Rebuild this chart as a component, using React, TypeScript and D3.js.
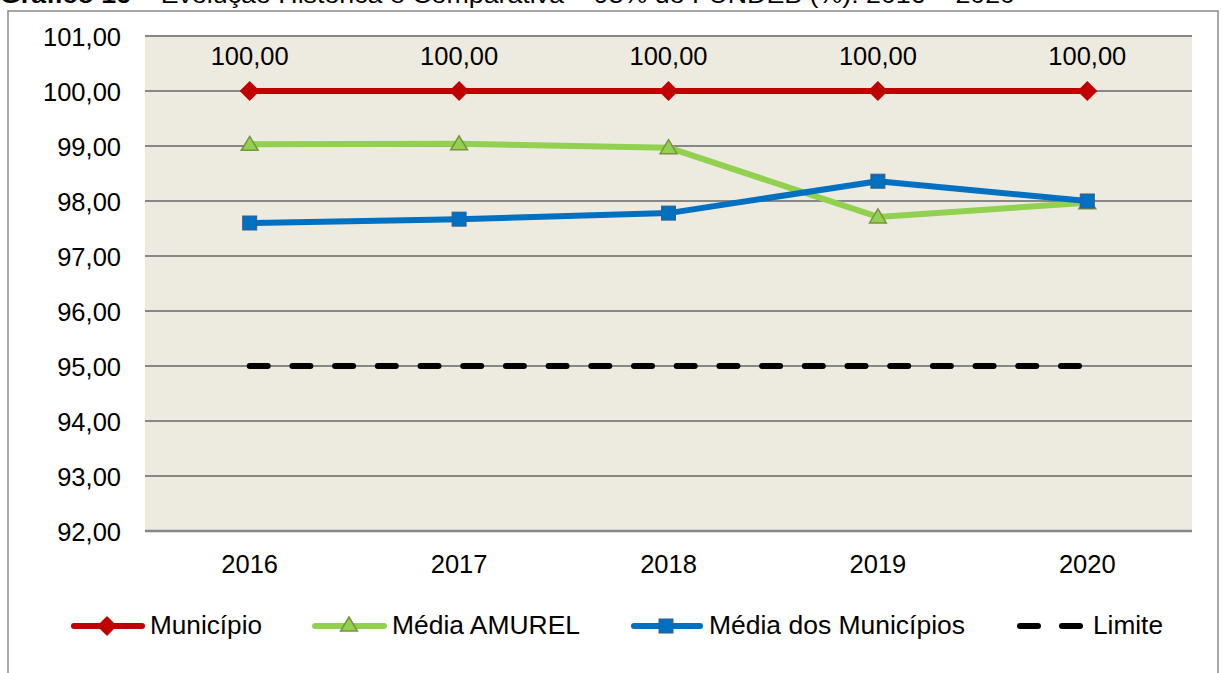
import React from "react";
import * as d3 from "d3";

const years = ["2016", "2017", "2018", "2019", "2020"];
const municipio = [100, 100, 100, 100, 100];
const mediaAmurel = [99.03, 99.04, 98.97, 97.71, 97.97];
const mediaMunicipios = [97.6, 97.67, 97.78, 98.36, 98.0];
const limite = [95, 95, 95, 95, 95];
const yTicks = [92, 93, 94, 95, 96, 97, 98, 99, 100, 101];
const titleText = "Gráfico 16 – Evolução Histórica e Comparativa – 95% do FUNDEB (%): 2016 – 2020";

const W = 1222;
const H = 673;
const FONT = "'Liberation Sans', Arial, sans-serif";
const fmt = (v: number) => v.toFixed(2).replace(".", ",");

export default function App() {
  const x = d3.scaleBand().domain(years).range([145, 1192]);
  const cx = (d: string) => (x(d) as number) + x.bandwidth() / 2;
  const y = d3.scaleLinear().domain([92, 101]).range([531, 36]);
  const line = d3
    .line<number>()
    .x((_, i) => cx(years[i]))
    .y((v) => y(v));

  const RED = "#C00000";
  const GREEN = "#92D050";
  const BLUE = "#0070C0";

  const diamond = (px: number, py: number, r: number) =>
    `M${px},${py - r}L${px + r},${py}L${px},${py + r}L${px - r},${py}Z`;
  const triangle = (px: number, py: number, r: number) =>
    `M${px},${py - r}L${px + r * 1.05},${py + r * 0.75}L${px - r * 1.05},${py + r * 0.75}Z`;

  const legendY = 626;
  const FS = 25.5;

  return (
    <svg
      width={W}
      height={H}
      style={{ position: "absolute", left: 0, top: 0, background: "#fff" }}
      fontFamily={FONT}
    >
      <text x={0} y={3} fontSize={23} fill="#000" textLength={1015} lengthAdjust="spacingAndGlyphs">
        <tspan fontWeight="bold">Gráfico 16</tspan>
        {titleText.slice(10)}
      </text>
      {/* frame */}
      <path d={`M8,${H}L8,11L1218,11L1218,${H}`} fill="none" stroke="#8a8a8a" strokeWidth={1.5} />

      {/* plot background */}
      <rect x={145} y={36} width={1047} height={495} fill="#EDEAE0" />

      {yTicks.map((t) => (
        <g key={t}>
          <line x1={145} x2={1192} y1={y(t)} y2={y(t)} stroke="#878787" strokeWidth={t === 92 ? 2.5 : 2} />
          <text x={121} y={y(t) + 9.5} textAnchor="end" fontSize={FS} fill="#000">
            {fmt(t)}
          </text>
        </g>
      ))}

      {years.map((yr) => (
        <text key={yr} x={cx(yr)} y={573} textAnchor="middle" fontSize={FS} fill="#000">
          {yr}
        </text>
      ))}

      {/* Limite */}
      <path
        d={line(limite) || ""}
        fill="none"
        stroke="#000"
        strokeWidth={6}
        strokeDasharray="18 24.7"
        strokeLinecap="round"
      />

      {/* Média AMUREL */}
      <path d={line(mediaAmurel) || ""} fill="none" stroke={GREEN} strokeWidth={6} strokeLinejoin="round" />
      {mediaAmurel.map((v, i) => (
        <path key={i} d={triangle(cx(years[i]), y(v), 8)} fill={GREEN} stroke="#77933C" strokeWidth={1.5} />
      ))}

      {/* Média dos Municípios */}
      <path d={line(mediaMunicipios) || ""} fill="none" stroke={BLUE} strokeWidth={6} strokeLinejoin="round" />
      {mediaMunicipios.map((v, i) => (
        <rect
          key={i}
          x={cx(years[i]) - 7}
          y={y(v) - 7}
          width={14}
          height={14}
          fill={BLUE}
          stroke="#385D8A"
          strokeWidth={1}
        />
      ))}

      {/* Município */}
      <path d={line(municipio) || ""} fill="none" stroke={RED} strokeWidth={6} />
      {municipio.map((v, i) => (
        <g key={i}>
          <path d={diamond(cx(years[i]), y(v), 10)} fill={RED} />
          <text x={cx(years[i])} y={y(v) - 26} textAnchor="middle" fontSize={FS} fill="#000">
            {fmt(v)}
          </text>
        </g>
      ))}

      {/* Legend */}
      <g>
        <line x1={74} x2={142} y1={legendY} y2={legendY} stroke={RED} strokeWidth={6} strokeLinecap="round" />
        <path d={diamond(107, legendY, 10)} fill={RED} />
        <text x={150} y={634} fontSize={FS} textLength={112} lengthAdjust="spacingAndGlyphs">Município</text>

        <line x1={315} x2={384} y1={legendY} y2={legendY} stroke={GREEN} strokeWidth={6} strokeLinecap="round" />
        <path d={triangle(349, legendY - 1, 8)} fill={GREEN} stroke="#77933C" strokeWidth={1.5} />
        <text x={392} y={634} fontSize={FS} textLength={188} lengthAdjust="spacingAndGlyphs">Média AMUREL</text>

        <line x1={634} x2={700} y1={legendY} y2={legendY} stroke={BLUE} strokeWidth={6} strokeLinecap="round" />
        <rect x={659} y={legendY - 7} width={14} height={14} fill={BLUE} stroke="#385D8A" strokeWidth={1} />
        <text x={709} y={634} fontSize={FS} textLength={256} lengthAdjust="spacingAndGlyphs">Média dos Municípios</text>

        <line
          x1={1020}
          x2={1080}
          y1={legendY}
          y2={legendY}
          stroke="#000"
          strokeWidth={6}
          strokeDasharray="18 24"
          strokeLinecap="round"
        />
        <text x={1093} y={634} fontSize={FS} textLength={70} lengthAdjust="spacingAndGlyphs">Limite</text>
      </g>
    </svg>
  );
}
